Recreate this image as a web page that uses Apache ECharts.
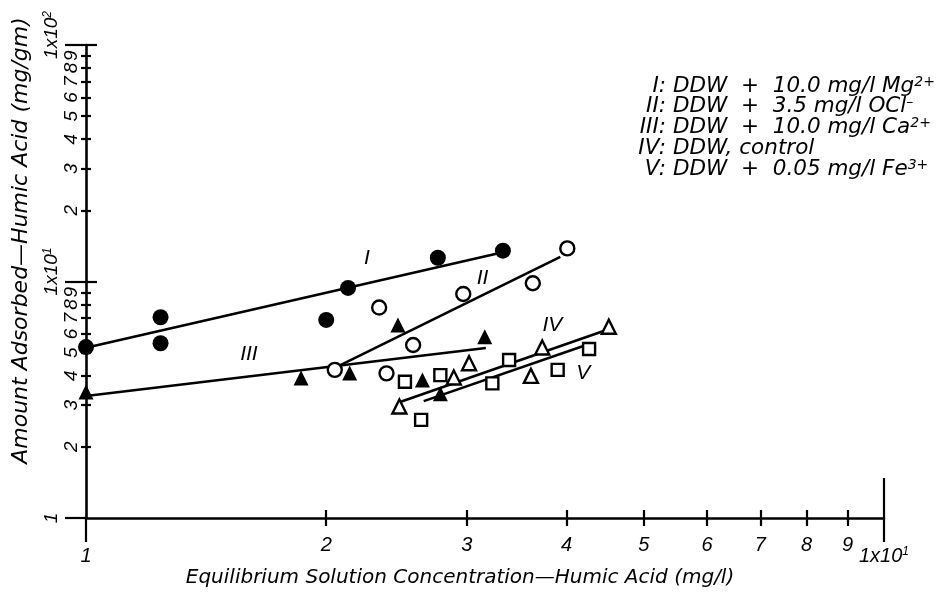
<!DOCTYPE html>
<html>
<head>
<meta charset="utf-8">
<script src="https://cdn.jsdelivr.net/npm/echarts@6/dist/echarts.min.js"></script>
<style>
html,body{margin:0;padding:0;background:#fff;}
#chart{width:940px;height:597px;}
</style>
</head>
<body>
<div id="chart"></div>
<script>
// ---- tick values ----
const xMinorTicks = [2, 3, 4, 5, 6, 7, 8, 9];
const xMajorTicks = [1, 10];
const yMinorTicks = [2, 3, 4, 5, 6, 7, 8, 9, 20, 30, 40, 50, 60, 70, 80, 90];
const yMajorTicks = [1, 10, 100];

// ---- data: [concentration mg/l, amount adsorbed mg/gm] ----
const seriesI   = [[1.0, 5.28], [1.24, 7.06], [1.24, 5.48], [2.00, 6.88], [2.13, 9.39], [2.76, 12.6], [3.33, 13.5]];
const seriesII  = [[2.05, 4.23], [2.33, 7.76], [2.38, 4.09], [2.57, 5.39], [2.97, 8.86], [3.63, 9.83], [4.01, 13.8]];
const seriesIII = [[1.0, 3.41], [1.86, 3.91], [2.14, 4.10], [2.46, 6.55], [2.64, 3.83], [2.78, 3.35], [3.16, 5.84]];
const seriesIV  = [[2.47, 2.96], [2.89, 3.93], [3.02, 4.51], [3.61, 3.99], [3.73, 5.26], [4.52, 6.44]];
const seriesV   = [[2.51, 3.77], [2.63, 2.60], [2.78, 4.02], [3.23, 3.71], [3.39, 4.66], [3.90, 4.23], [4.27, 5.18]];

// ---- fitted lines (end points) ----
const fitI   = [[1.0, 5.25], [3.33, 13.3]];
const fitII  = [[2.05, 4.31], [3.93, 12.7]];
const fitIII = [[1.0, 3.28], [3.17, 5.23]];
const fitIV  = [[2.48, 3.10], [4.49, 6.24]];
const fitV   = [[2.65, 3.12], [4.20, 5.34]];

// ---- curve labels ----
const curveNames = ['I', 'II', 'III', 'IV', 'V'];
const curveLabelAt = [[2.25, 12.6], [3.14, 10.3], [1.60, 4.94], [3.84, 6.55], [4.20, 4.10]];

// ---- legend text ----
const legendKeys = ['I:', 'II:', 'III:', 'IV:', 'V:'];
const legendBody = ['DDW  +  10.0 mg/l Mg', 'DDW  +  3.5 mg/l OCl', 'DDW  +  10.0 mg/l Ca', 'DDW, control', 'DDW  +  0.05 mg/l Fe'];
const legendSup  = ['2+', '–', '2+', '', '3+'];

const xTitle = 'Equilibrium Solution Concentration—Humic Acid (mg/l)';
const yTitle = 'Amount Adsorbed—Humic Acid (mg/gm)';

const FONT = 'Liberation Sans';
const WFONT = 'DejaVu Sans';
const BLACK = '#000';

const chart = echarts.init(document.getElementById('chart'), null, {renderer: 'canvas'});

const gridBox = {left: 86, right: 56, top: 45, bottom: 79};

function baseX(extra) {
  return Object.assign({
    type: 'log', logBase: 10, min: 1, max: 10, gridIndex: 0, position: 'bottom',
    axisLine: {show: false}, splitLine: {show: false}, minorTick: {show: false},
    axisTick: {show: false}, axisLabel: {show: false}
  }, extra);
}
function baseY(extra) {
  return Object.assign({
    type: 'log', logBase: 10, min: 1, max: 100, gridIndex: 0, position: 'left',
    axisLine: {show: false}, splitLine: {show: false}, minorTick: {show: false},
    axisTick: {show: false}, axisLabel: {show: false}
  }, extra);
}
const tickLine = {color: BLACK, width: 2.2};

const option = {
  animation: false,
  backgroundColor: '#fff',
  grid: gridBox,
  xAxis: [
    baseX({
      axisLine: {show: true, lineStyle: {color: BLACK, width: 2.6}},
      axisTick: {show: true, customValues: xMinorTicks, length: 8, inside: false, lineStyle: tickLine},
      axisLabel: {show: true, customValues: xMinorTicks, margin: 17, color: BLACK,
        fontFamily: FONT, fontStyle: 'italic', fontSize: 20,
        formatter: v => String(Math.round(v))},
      name: xTitle, nameLocation: 'middle', nameGap: 50,
      nameTextStyle: {color: BLACK, fontFamily: WFONT, fontStyle: 'italic', fontSize: 20, padding: [0, 50, 0, 0]}
    }),
    baseX({axisTick: {show: true, customValues: xMinorTicks, length: 8, inside: true, lineStyle: tickLine}}),
    baseX({
      axisTick: {show: true, customValues: xMajorTicks, length: 24, inside: false, lineStyle: tickLine},
      axisLabel: {show: true, customValues: xMajorTicks, margin: 28, color: BLACK,
        fontFamily: FONT, fontStyle: 'italic', fontSize: 20,
        formatter: v => Math.round(v) === 1 ? '{a|1}' : '{a|1x10}{s|1}',
        rich: {a: {fontFamily: FONT, fontStyle: 'italic', fontSize: 20, color: BLACK},
               s: {fontFamily: FONT, fontStyle: 'italic', fontSize: 12, color: BLACK, verticalAlign: 'top'}}}
    }),
    baseX({axisTick: {show: true, customValues: [10], length: 40, inside: true, lineStyle: tickLine}})
  ],
  yAxis: [
    baseY({
      axisLine: {show: true, lineStyle: {color: BLACK, width: 2.6}},
      axisTick: {show: true, customValues: yMinorTicks, length: 5, inside: false, lineStyle: tickLine},
      axisLabel: {show: true, customValues: yMinorTicks, rotate: 90, margin: 5, color: BLACK,
        fontFamily: FONT, fontStyle: 'italic', fontSize: 19,
        formatter: v => String(Math.round(v / Math.pow(10, Math.floor(Math.log10(v) + 1e-9))))},
      name: yTitle, nameLocation: 'middle', nameGap: 54,
      nameTextStyle: {color: BLACK, fontFamily: WFONT, fontStyle: 'italic', fontSize: 22, padding: [0, 0, 0, 82]}
    }),
    baseY({axisTick: {show: true, customValues: yMinorTicks, length: 5, inside: true, lineStyle: tickLine}}),
    baseY({
      axisTick: {show: true, customValues: yMajorTicks, length: 21, inside: false, lineStyle: tickLine},
      axisLabel: {show: true, customValues: yMajorTicks, rotate: 90, margin: 25, color: BLACK,
        fontFamily: FONT, fontStyle: 'italic', fontSize: 19,
        formatter: v => {
          const e = Math.round(Math.log10(v));
          return e === 0 ? '{a|1}' : '{w|}{a|1x10}{s|' + e + '}';
        },
        rich: {a: {fontFamily: FONT, fontStyle: 'italic', fontSize: 19, color: BLACK},
               w: {width: 20},
               s: {fontFamily: FONT, fontStyle: 'italic', fontSize: 12, color: BLACK, verticalAlign: 'top'}}}
    }),
    baseY({axisTick: {show: true, customValues: [10, 100], length: 11, inside: true, lineStyle: tickLine}})
  ],
  series: []
};

function fitLine(data) {
  return {type: 'line', data: data, symbol: 'none', z: 2, silent: true,
    lineStyle: {color: BLACK, width: 2.6}};
}
function marks(data, symbol, filled, size) {
  return {type: 'scatter', data: data, symbol: symbol, symbolSize: size, z: 3,
    itemStyle: filled ? {color: BLACK, opacity: 1} : {color: '#fff', borderColor: BLACK, borderWidth: 2.4, opacity: 1}};
}
option.series.push(
  fitLine(fitI), fitLine(fitII), fitLine(fitIII), fitLine(fitIV), fitLine(fitV),
  marks(seriesI, 'circle', true, 16),
  marks(seriesII, 'circle', false, 14),
  marks(seriesIII, 'triangle', true, 15),
  marks(seriesIV, 'triangle', false, 14),
  marks(seriesV, 'rect', false, 12),
  {
    type: 'scatter', symbolSize: 0, z: 4, silent: true, itemStyle: {opacity: 1},
    data: curveLabelAt.map((p, i) => ({value: p, name: curveNames[i]})),
    label: {show: true, position: 'inside', formatter: p => p.name, color: BLACK, opacity: 1,
      fontFamily: FONT, fontStyle: 'italic', fontSize: 21}
  }
);

// legend block (top right)
const graphics = [];
legendKeys.forEach((k, i) => {
  const y = 86 + i * 20.8;
  graphics.push({type: 'text', x: 666, y: y,
    style: {text: k, fill: BLACK, font: 'italic 21.5px "' + WFONT + '"', textAlign: 'right', textVerticalAlign: 'middle'}});
  const body = legendSup[i] ? '{n|' + legendBody[i] + '}{s|' + legendSup[i] + '}' : '{n|' + legendBody[i] + '}';
  graphics.push({type: 'text', x: 673, y: y,
    style: {text: body, textAlign: 'left', textVerticalAlign: 'middle',
      rich: {n: {fill: BLACK, font: 'italic 21.5px "' + WFONT + '"', lineHeight: 22},
             s: {fill: BLACK, font: 'italic 14px "' + WFONT + '"', verticalAlign: 'top', lineHeight: 22}}}});
});
option.graphic = graphics;

chart.setOption(option);
</script>
</body>
</html>
